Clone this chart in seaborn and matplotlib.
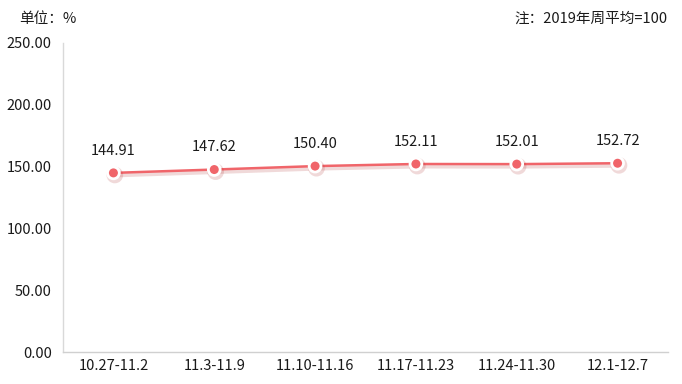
import matplotlib
matplotlib.use("Agg")
import matplotlib.pyplot as plt
import matplotlib.patheffects as pe
import seaborn as sns
import pandas as pd

categories = ["10.27-11.2", "11.3-11.9", "11.10-11.16", "11.17-11.23", "11.24-11.30", "12.1-12.7"]
values = [144.91, 147.62, 150.40, 152.11, 152.01, 152.72]
yticks = [0, 50, 100, 150, 200, 250]

sns.set_theme(style="white")
plt.rcParams['font.family'] = ['Noto Sans CJK SC', 'DejaVu Sans']

df = pd.DataFrame({"cat": categories, "val": values})
fig = plt.figure(figsize=(6.82, 3.84), dpi=100)
ax = fig.add_axes([63/682, 1-352/384, (668-63)/682, (352-43)/384])

color = "#f0656a"
sns.lineplot(data=df, x="cat", y="val", ax=ax, color=color, linewidth=1.8,
             marker="o", markersize=8.5, markerfacecolor=color,
             markeredgecolor="white", markeredgewidth=2,
             path_effects=[pe.SimpleLineShadow(offset=(1, -1.5), shadow_color="#b03030", alpha=0.18, linewidth=3.5), pe.Normal()])

for i, v in enumerate(values):
    ax.annotate(f"{v:.2f}", (i, v), xytext=(0, 11), textcoords="offset points",
                ha="center", va="bottom", fontsize=10.5, color="#1a1a1a")

ax.set_xlim(-0.5, len(categories) - 0.5)
ax.set_ylim(0, 250)
ax.set_yticks(yticks)
ax.set_yticklabels([f"{t:.2f}" for t in yticks])
ax.set_xlabel("")
ax.set_ylabel("")
ax.tick_params(axis="both", length=0, labelsize=10.5, colors="#1a1a1a")
ax.tick_params(axis="y", pad=8)
ax.tick_params(axis="x", pad=5)
for s in ["top", "right"]:
    ax.spines[s].set_visible(False)
ax.spines["left"].set_color("#d9d9d9")
ax.spines["bottom"].set_color("#d0d0d0")
ax.spines["left"].set_linewidth(1)
ax.spines["bottom"].set_linewidth(1)

fig.text(19/682, 1-19/384, "单位：%", fontsize=10.5, ha="left", va="center", color="#1a1a1a")
fig.text(668/682, 1-19/384, "注：2019年周平均=100", fontsize=10.5, ha="right", va="center", color="#1a1a1a")

fig.savefig("out.png", dpi=100, facecolor="white")
